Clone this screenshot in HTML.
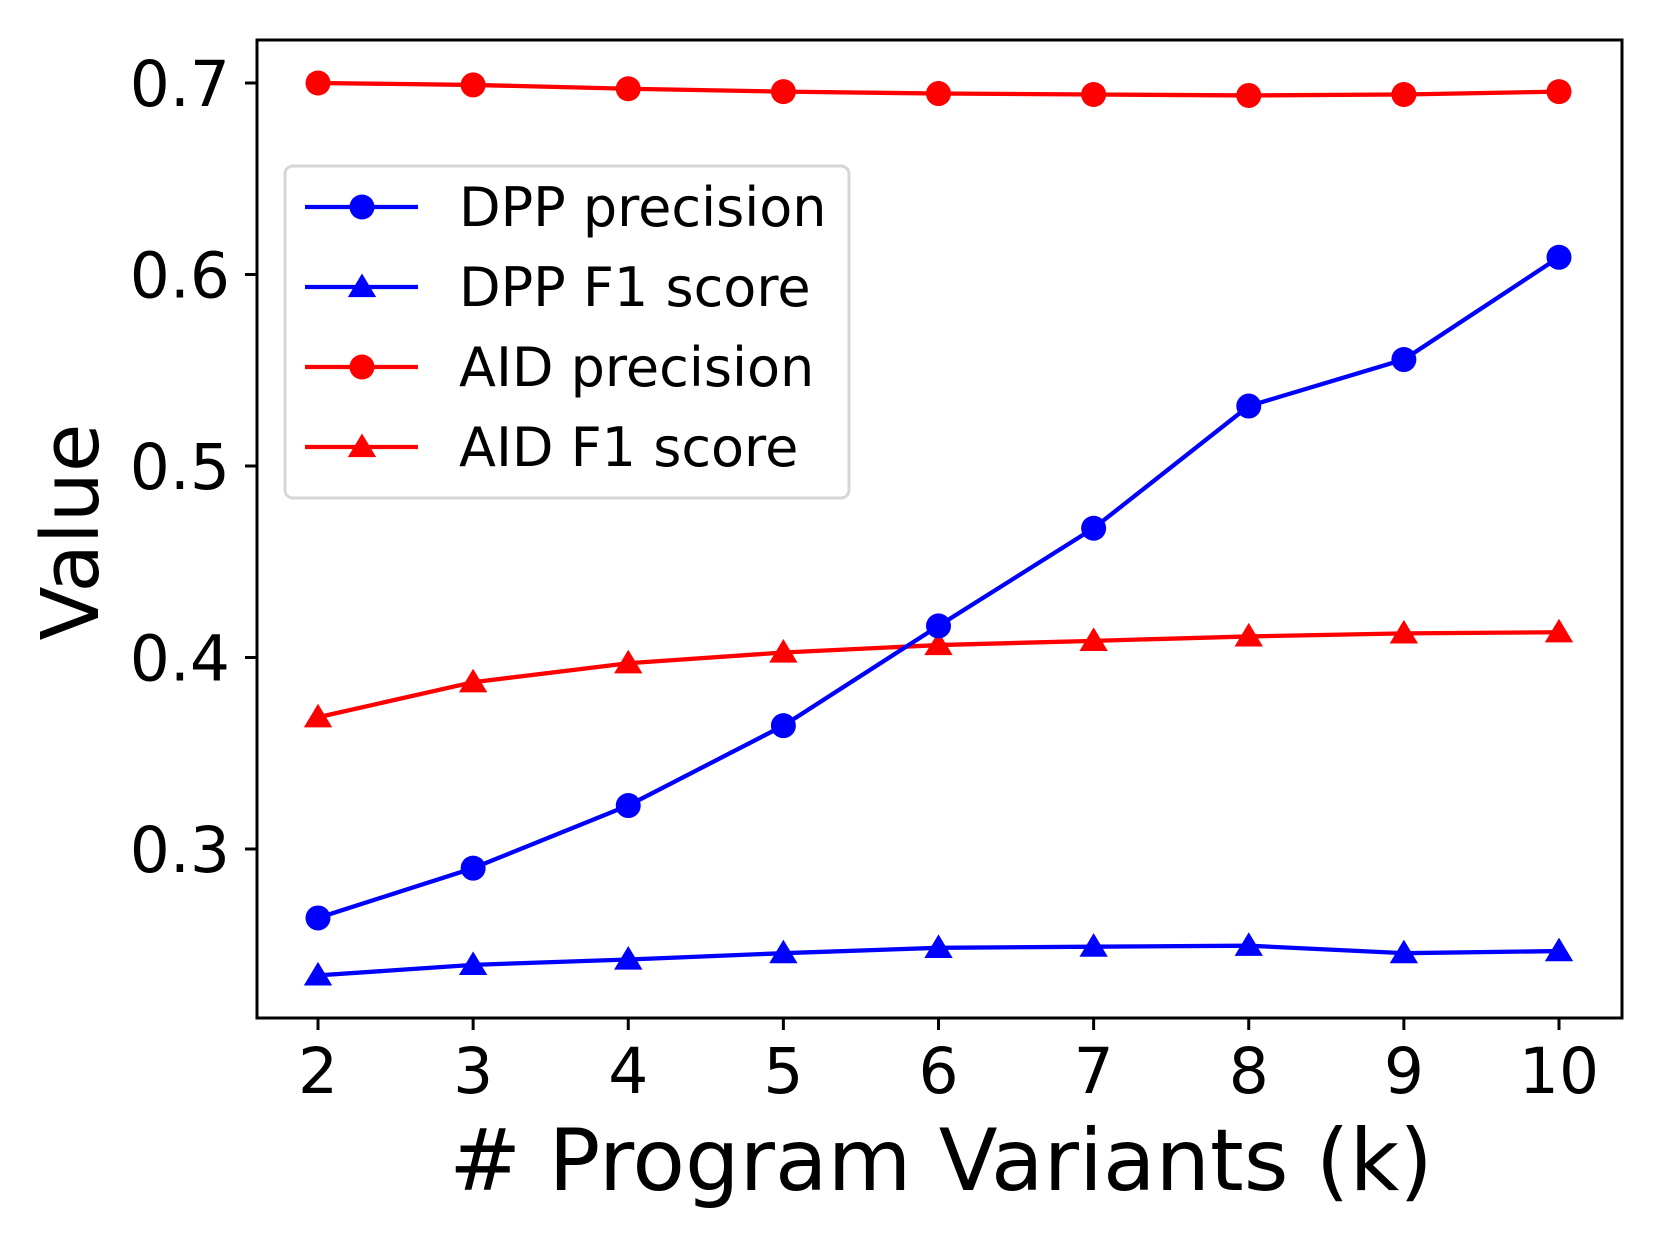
<!DOCTYPE html>
<html><head><meta charset="utf-8"><style>
html,body{margin:0;padding:0;background:#fff;}
svg{display:block;font-family:"DejaVu Sans","Liberation Sans",sans-serif;}
</style></head><body>
<svg id="chart" width="1660" height="1245" viewBox="0 0 1660 1245" xmlns="http://www.w3.org/2000/svg">
<rect width="1660" height="1245" fill="#fff"/>
<g id="plot"></g>
</svg>
<script>
const categories = [2,3,4,5,6,7,8,9,10];
const dppPrecision = [0.264,0.290,0.3227,0.3644,0.4165,0.4675,0.5313,0.5556,0.609];
const dppF1 = [0.234,0.2395,0.2423,0.2456,0.2484,0.249,0.2495,0.2456,0.2467];
const aidPrecision = [0.700,0.699,0.697,0.6955,0.6945,0.694,0.6935,0.694,0.6955];
const aidF1 = [0.3688,0.3871,0.397,0.4026,0.4065,0.4087,0.411,0.4126,0.4132];
const yTicks = [0.3,0.4,0.5,0.6,0.7];
const yTickLabels = ["0.3","0.4","0.5","0.6","0.7"];
const seriesNames = ["DPP precision","DPP F1 score","AID precision","AID F1 score"];

const NS="http://www.w3.org/2000/svg";
const g=document.getElementById('plot');
const L=257,R=1622,T=40,B=1018;
function xs(v){return 318+(v-2)*(1559-318)/8;}
function ys(v){return 83+(0.7-v)*1915;}
function mk(tag,attrs,parent){const e=document.createElementNS(NS,tag);for(const k in attrs)e.setAttribute(k,attrs[k]);(parent||g).appendChild(e);return e;}

categories.forEach(c=>{
  const t=mk('line',{x1:xs(c),x2:xs(c),y1:B,y2:B+12,stroke:'#000','stroke-width':3});
  
  
  const tx=mk('text',{x:xs(c),y:1093,'font-size':63,'text-anchor':'middle',fill:'#000'});
  tx.textContent=String(c);
  
  
});
yTicks.forEach((v,i)=>{
  const t=mk('line',{x1:L-12,x2:L,y1:ys(v),y2:ys(v),stroke:'#000','stroke-width':3});
  
  
  const tx=mk('text',{x:230,y:ys(v)+23,'font-size':63,'text-anchor':'end',fill:'#000'});
  tx.textContent=yTickLabels[i];
  
  
});

function tri(cx,cy,s){return `${cx},${cy-s} ${cx-s*1.05},${cy+s*0.75} ${cx+s*1.05},${cy+s*0.75}`;}
function drawSeries(vals,color,marker,name){
  const pts=vals.map((v,i)=>xs(categories[i])+','+ys(v)).join(' ');
  const pl=mk('polyline',{points:pts,fill:'none',stroke:color,'stroke-width':4.3,'stroke-linejoin':'round'});
  
  
  vals.forEach((v,i)=>{
    let m;
    if(marker==='o') m=mk('circle',{cx:xs(categories[i]),cy:ys(v),r:12.5,fill:color});
    else m=mk('polygon',{points:tri(xs(categories[i]),ys(v),13.5),fill:color});
    
    
  });
}
drawSeries(aidPrecision,'#ff0000','o','aid-precision');
drawSeries(aidF1,'#ff0000','^','aid-f1');
drawSeries(dppPrecision,'#0000ff','o','dpp-precision');
drawSeries(dppF1,'#0000ff','^','dpp-f1');

const fr=mk('rect',{x:L,y:T,width:R-L,height:B-T,fill:'none',stroke:'#000','stroke-width':3});



const lg=mk('g',{});


mk('rect',{x:285,y:166,width:564,height:332,rx:8,fill:'#fff','fill-opacity':0.8,stroke:'#d6d6d6','stroke-width':3},lg);
const colors=['#0000ff','#0000ff','#ff0000','#ff0000'];
const markers=['o','^','o','^'];
seriesNames.forEach((n,i)=>{
  const y=207+i*80;
  const e=mk('g',{},lg);
  
  
  mk('line',{x1:305,x2:418,y1:y,y2:y,stroke:colors[i],'stroke-width':4.3},e);
  if(markers[i]==='o') mk('circle',{cx:362,cy:y,r:12.5,fill:colors[i]},e);
  else mk('polygon',{points:tri(362,y,13.5),fill:colors[i]},e);
  const t=mk('text',{x:459,y:y+19,'font-size':54,fill:'#000'},e);
  t.textContent=n;
});

const xl=mk('text',{x:941,y:1190,'font-size':86,'text-anchor':'middle',fill:'#000'});
xl.textContent='# Program Variants (k)';


const yl=mk('text',{x:0,y:0,'font-size':79,'text-anchor':'middle',fill:'#000',transform:'translate(98,532) rotate(-90)'});
yl.textContent='Value';


</script>
</body></html>
